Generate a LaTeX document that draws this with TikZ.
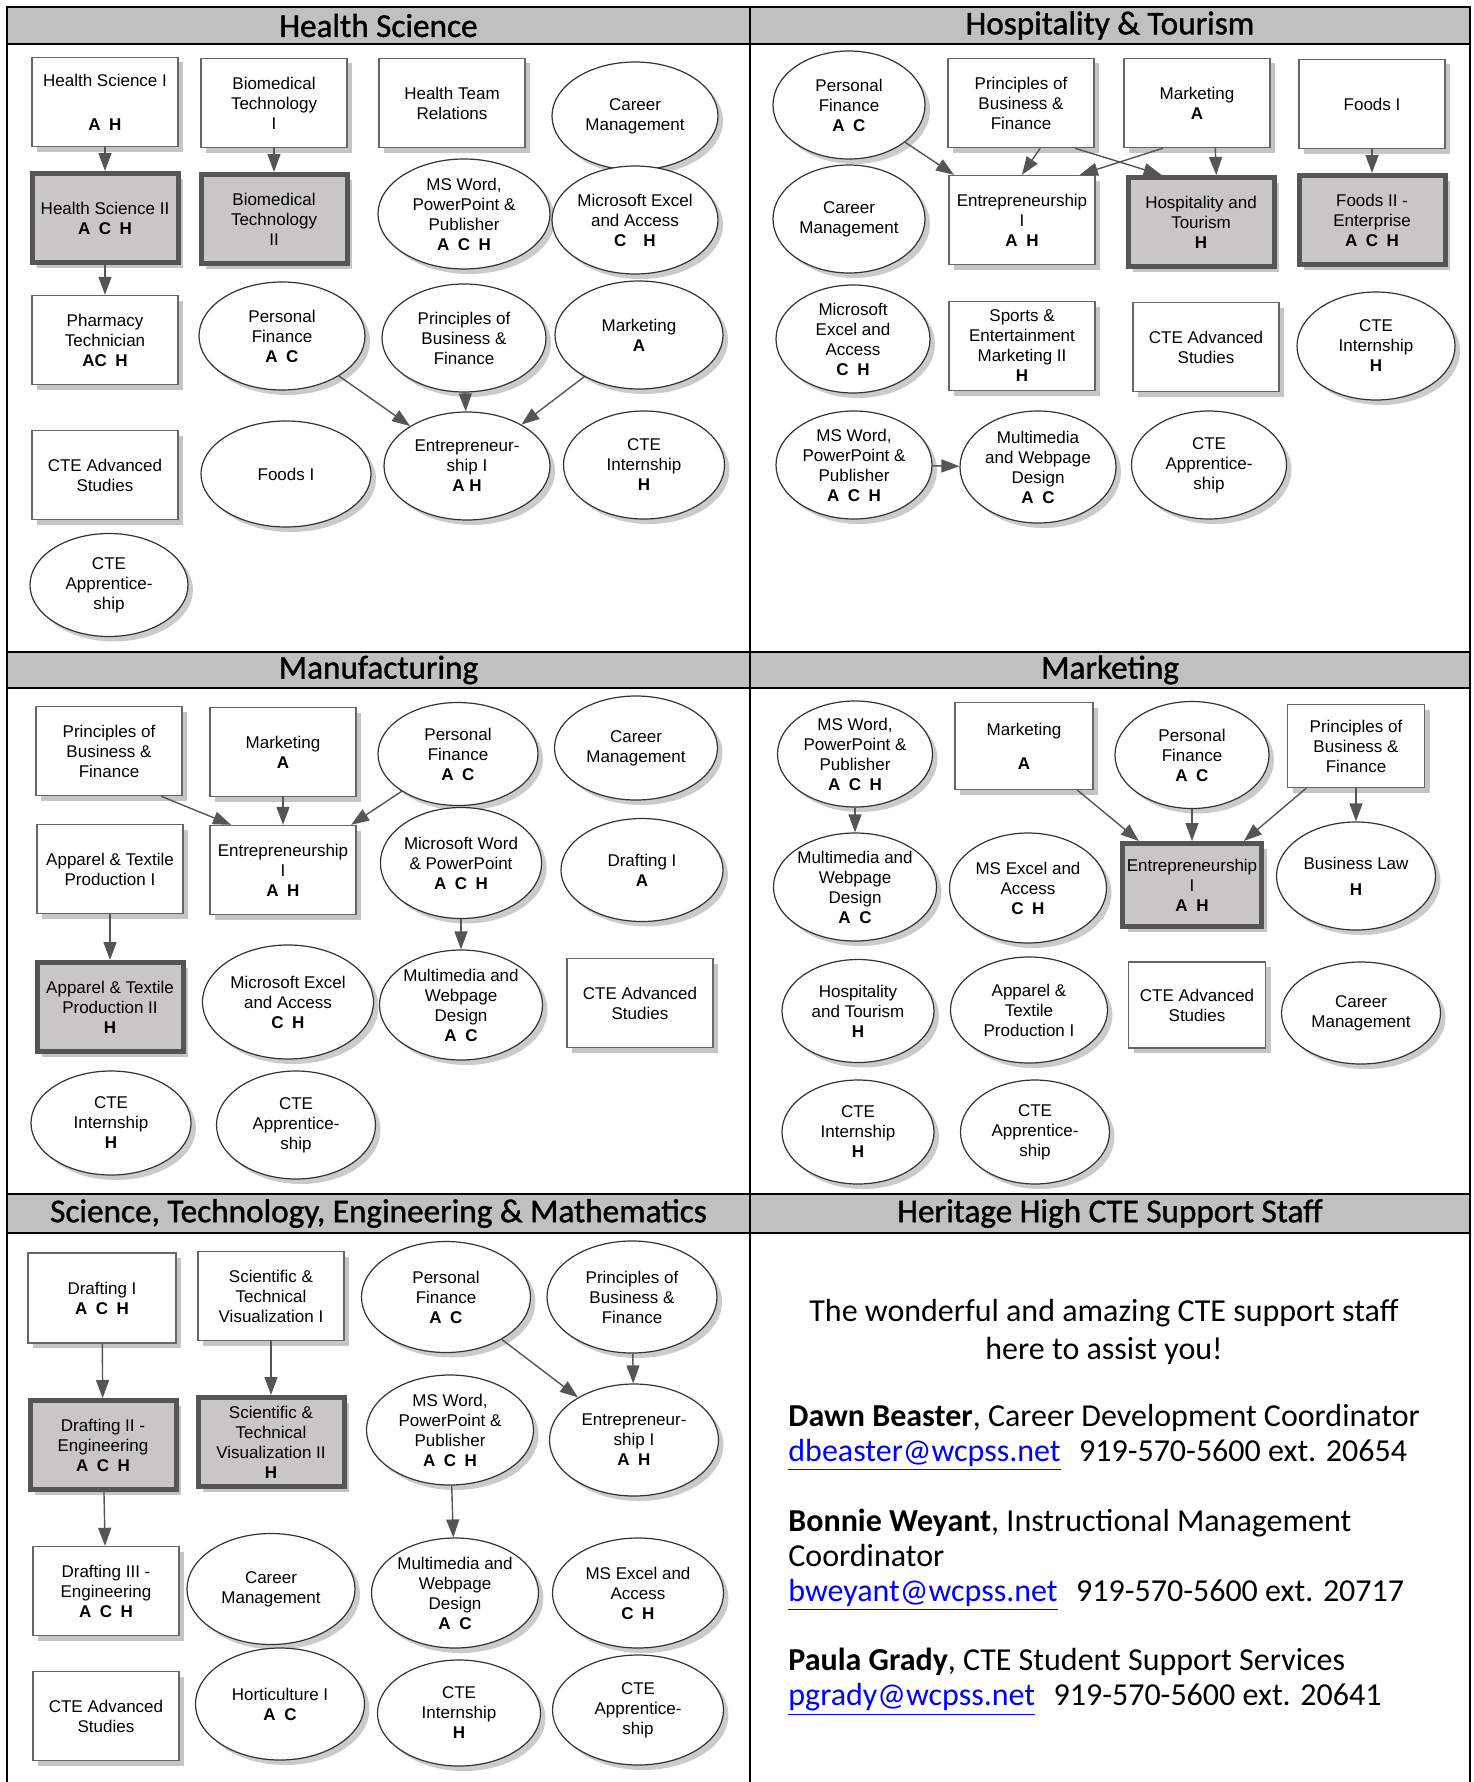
\documentclass[tikz,border=0pt]{standalone}
\usepackage{fontspec}
\setmainfont{Liberation Sans}
\newfontfamily\headfont{Carlito}
\newfontfamily\titlefont{Carlito}[FakeBold=1.2]
\usepackage{tikz}
\usetikzlibrary{arrows.meta}
\usetikzlibrary{shapes.geometric}
\usetikzlibrary{shadows}

\definecolor{hdrgray}{RGB}{192,192,192}
\definecolor{coregray}{RGB}{201,198,198}
\definecolor{linegray}{RGB}{85,85,85}
\newcommand{\ach}[1]{{\bfseries #1}}
\newcommand{\nodefont}{\fontsize{8.5}{10}\selectfont}
\newcommand{\stafffont}{\headfont\fontsize{16}{17.5}\selectfont}
\newcommand{\mail}[1]{\textcolor{blue}{\underline{#1}}}

\tikzset{
  frame/.style={draw=black, line width=1.2pt},
  hdr/.style={font=\titlefont\fontsize{16.6}{20}\selectfont, inner sep=0pt},
  course/.style={rectangle, draw=black!60, fill=white, line width=0.7pt, align=center,
    font=\nodefont, inner xsep=1pt, minimum width=73pt, minimum height=44.5pt,
    drop shadow={shadow xshift=2.5pt, shadow yshift=-2.5pt, fill=black!45}},
  core/.style={course, fill=coregray, draw=linegray, line width=2.5pt},
  elec/.style={ellipse, draw=black!80, fill=white, line width=0.6pt, align=center,
    font=\nodefont, inner sep=0pt, minimum width=#1, minimum height=54pt,
    drop shadow={shadow xshift=2.5pt, shadow yshift=-2.5pt, fill=black!40}},
  elec/.default=83pt,
  link/.style={draw=linegray, line width=0.7pt, ->},
  staff/.style={font=\stafffont, inner sep=0pt}
}

\begin{document}
\begin{tikzpicture}[x=0.5pt, y=-0.5pt, >={Triangle[length=9pt, width=6.5pt]}]
        \useasboundingbox (0,0) rectangle (1473,1782);
        \fill[white] (0,0) rectangle (1473,1782);
        \fill[hdrgray] (7,7) rectangle (1470,44);
        \fill[hdrgray] (7,652) rectangle (1470,688);
        \fill[hdrgray] (7,1194) rectangle (1470,1233);
        \draw[frame] (7,1782) -- (7,7) -- (1470,7) -- (1470,1782);
        \draw[frame] (750,7) -- (750,1782);
        \foreach \y in {44,652,688,1194,1233}
            \draw[frame] (7,\y) -- (1470,\y);

        \node[hdr] (hdrhs) at (378.5,25.5) {Health Science};
        \node[hdr] (hdrht) at (1110,25.5) {Hospitality \& Tourism};
        \node[hdr] (hdrmf) at (378.5,670) {Manufacturing};
        \node[hdr] (hdrmk) at (1110,670) {Marketing};
        \node[hdr] (hdrst) at (378.5,1213.5) {Science, Technology, Engineering \& Mathematics};
        \node[hdr] (hdrstaff) at (1110,1213.5) {Heritage High CTE Support Staff};

        \node[course] (hsI) at (105,102) {Health Science I\\[12pt]\ach{A\enspace H}};
        \node[core] (hsII) at (105,218) {Health Science II\\\ach{A\enspace C\enspace H}};
        \node[course] (pharm) at (105,340) {Pharmacy\\Technician\\\ach{AC\enspace H}};
        \node[course] (hsadv) at (105,475) {CTE Advanced\\Studies};
        \node[elec=79pt, minimum height=51.5pt] (hsappr) at (109,585) {CTE\\Apprentice-\\ship};
        \node[course] (bioI) at (274,103) {Biomedical\\Technology\\I};
        \node[core] (bioII) at (274,219) {Biomedical\\Technology\\II};
        \node[elec] (hspf) at (282,336) {Personal\\Finance\\\ach{A\enspace C}};
        \node[elec=85pt, minimum height=53pt] (hsfoods) at (286,474) {Foods I};
        \node[course] (team) at (452,103) {Health Team\\Relations};
        \node[elec=86pt, minimum height=55pt] (hsword) at (464,214) {MS Word,\\PowerPoint \&\\Publisher\\\ach{A\enspace C\enspace H}};
        \node[elec=82pt] (hspbf) at (464,338) {Principles of\\Business \&\\Finance};
        \node[elec] (hsent) at (467,466) {Entrepreneur-\\ship I\\\ach{A H}};
        \node[elec] (hscareer) at (635,116) {Career\\Management};
        \node[elec] (hsexcel) at (635,220) {Microsoft Excel\\and Access\\\ach{C\quad H}};
        \node[elec=84pt] (hsmkt) at (639,335) {Marketing\\\ach{A}};
        \node[elec=80.5pt] (hsintern) at (644,465) {CTE\\Internship\\\ach{H}};

        \node[elec=76pt] (htpf) at (849,105) {Personal\\Finance\\\ach{A\enspace C}};
        \node[elec=76pt] (htcareer) at (849,219) {Career\\Management};
        \node[elec=77pt] (htexcel) at (853,339) {Microsoft\\Excel and\\Access\\\ach{C\enspace H}};
        \node[elec=78pt] (htword) at (854,465) {MS Word,\\PowerPoint \&\\Publisher\\\ach{A\enspace C\enspace H}};
        \node[course] (htpbf) at (1021,103) {Principles of\\Business \&\\Finance};
        \node[course] (htent) at (1022,220) {Entrepreneurship\\I\\\ach{A\enspace H}};
        \node[course] (htsports) at (1022,346) {Sports \&\\Entertainment\\Marketing II\\\ach{H}};
        \node[elec=78pt, minimum height=56pt] (htmedia) at (1038,467) {Multimedia\\and Webpage\\Design\\\ach{A\enspace C}};
        \node[course] (htmkt) at (1197,103) {Marketing\\\ach{A}};
        \node[core] (hosp) at (1201,222) {Hospitality and\\Tourism\\\ach{H}};
        \node[course] (htadv) at (1206,347) {CTE Advanced\\Studies};
        \node[elec=77.5pt] (htappr) at (1209,465) {CTE\\Apprentice-\\ship};
        \node[course] (htfoods) at (1372,104) {Foods I};
        \node[core] (foods) at (1372,220) {Foods II -\\Enterprise\\\ach{A\enspace C\enspace H}};
        \node[elec=79pt] (htintern) at (1376,346) {CTE\\Internship\\\ach{H}};

        \node[course] (mfpbf) at (109,751) {Principles of\\Business \&\\Finance};
        \node[course] (appI) at (110,869) {Apparel \& Textile\\Production I};
        \node[core] (appII) at (110,1007) {Apparel \& Textile\\Production II\\\ach{H}};
        \node[elec=80pt, minimum height=52pt] (mfintern) at (111,1123) {CTE\\Internship\\\ach{H}};
        \node[course] (mfmkt) at (283,752) {Marketing\\\ach{A}};
        \node[course] (mfent) at (283,870) {Entrepreneurship\\I\\\ach{A\enspace H}};
        \node[elec=85.5pt, minimum height=57pt] (mfexcel) at (288,1002) {Microsoft Excel\\and Access\\\ach{C\enspace H}};
        \node[elec=79.5pt] (mfappr) at (296,1125) {CTE\\Apprentice-\\ship};
        \node[elec=80pt, minimum height=51.5pt] (mfpf) at (458,754) {Personal\\Finance\\\ach{A\enspace C}};
        \node[elec=80.5pt, minimum height=55.5pt] (mfword) at (461,863) {Microsoft Word\\\& PowerPoint\\\ach{A\enspace C\enspace H}};
        \node[elec=80pt, minimum height=55pt] (mfmedia) at (461,1005) {Multimedia and\\Webpage\\Design\\\ach{A\enspace C}};
        \node[elec=81.5pt, minimum height=52pt] (mfcareer) at (636,748) {Career\\Management};
        \node[elec=81pt, minimum height=51.5pt] (draftA) at (642,870) {Drafting I\\\ach{A}};
        \node[course] (mfadv) at (640,1003) {CTE Advanced\\Studies};

        \node[elec=77.5pt, minimum height=53pt] (mkword) at (855,754) {MS Word,\\PowerPoint \&\\Publisher\\\ach{A\enspace C\enspace H}};
        \node[elec=77.5pt] (mkmedia) at (855,887) {Multimedia and\\Webpage\\Design\\\ach{A\enspace C}};
        \node[elec=76pt, minimum height=51.5pt] (mkhosp) at (858,1011) {Hospitality\\and Tourism\\\ach{H}};
        \node[elec=76pt, minimum height=52pt] (mkintern) at (858,1132) {CTE\\Internship\\\ach{H}};
        \node[course, minimum width=69pt, minimum height=43.5pt] (mkmkt) at (1024,746) {Marketing\\[7pt]\ach{A}};
        \node[elec=78.5pt, minimum height=55pt] (mkexcel) at (1028,888) {MS Excel and\\Access\\\ach{C\enspace H}};
        \node[elec=78.5pt, minimum height=53pt] (mkapp) at (1029,1010) {Apparel \&\\Textile\\Production I};
        \node[elec=74.5pt, minimum height=52pt] (mkappr) at (1035,1132) {CTE\\Apprentice-\\ship};
        \node[elec=77pt, minimum height=53.5pt] (mkpf) at (1192,755) {Personal\\Finance\\\ach{A\enspace C}};
        \node[core, minimum width=69.5pt, minimum height=41.5pt] (mkent) at (1192,885) {Entrepreneurship\\I\\\ach{A\enspace H}};
        \node[course, minimum width=68.5pt, minimum height=43pt] (mkadv) at (1197,1005) {CTE Advanced\\Studies};
        \node[course, minimum width=68.5pt, minimum height=41.5pt] (mkpbf) at (1356,746) {Principles of\\Business \&\\Finance};
        \node[elec=79.5pt] (law) at (1356,876) {Business Law\\[3pt]\ach{H}};
        \node[elec=79.5pt, minimum height=51pt] (mkcareer) at (1361,1013) {Career\\Management};

        \node[course, minimum width=74pt, minimum height=45pt] (draftI) at (102,1298) {Drafting I\\\ach{A\enspace C\enspace H}};
        \node[core] (draftII) at (103,1445) {Drafting II -\\Engineering\\\ach{A\enspace C\enspace H}};
        \node[course] (draftIII) at (106,1591) {Drafting III -\\Engineering\\\ach{A\enspace C\enspace H}};
        \node[course] (stadv) at (106,1716) {CTE Advanced\\Studies};
        \node[course] (stvI) at (271,1296) {Scientific \&\\Technical\\Visualization I};
        \node[core] (stvII) at (271,1442) {Scientific \&\\Technical\\Visualization II\\\ach{H}};
        \node[elec=84pt, minimum height=55.5pt] (stcareer) at (271,1589) {Career\\Management};
        \node[elec=84.5pt, minimum height=56pt] (hort) at (280,1704) {Horticulture I\\\ach{A\enspace C}};
        \node[elec=84.5pt, minimum height=55.5pt] (stpf) at (446,1297) {Personal\\Finance\\\ach{A\enspace C}};
        \node[elec=83.5pt, minimum height=55pt] (stword) at (450,1430) {MS Word,\\PowerPoint \&\\Publisher\\\ach{A\enspace C\enspace H}};
        \node[elec=83.5pt, minimum height=55pt] (stmedia) at (455,1593) {Multimedia and\\Webpage\\Design\\\ach{A\enspace C}};
        \node[elec=81.5pt, minimum height=53pt] (stintern) at (459,1713) {CTE\\Internship\\\ach{H}};
        \node[elec=85pt, minimum height=56pt] (stpbf) at (632,1297) {Principles of\\Business \&\\Finance};
        \node[elec=84.5pt, minimum height=56pt] (stent) at (634,1440) {Entrepreneur-\\ship I\\\ach{A\enspace H}};
        \node[elec=85.5pt, minimum height=55pt] (stexcel) at (638,1593) {MS Excel and\\Access\\\ach{C\enspace H}};
        \node[elec=85.5pt, minimum height=55pt] (stappr) at (638,1710) {CTE\\Apprentice-\\ship};

        \node[staff, align=center, font=\headfont\fontsize{16}{18.75}\selectfont] (intro) at (1104,1332)
            {The wonderful and amazing CTE support staff\\here to assist you!};
        \node[staff, align=left, anchor=west] (dawn) at (788,1437.5)
            {\textbf{Dawn Beaster}, Career Development Coordinator\\
             \mail{dbeaster@wcpss.net}\hspace{0.35em} 919-570-5600 ext. 20654};
        \node[staff, align=left, anchor=west] (bonnie) at (788,1560)
            {\textbf{Bonnie Weyant}, Instructional Management\\Coordinator\\
             \mail{bweyant@wcpss.net}\hspace{0.35em} 919-570-5600 ext. 20717};
        \node[staff, align=left, anchor=west] (paula) at (788,1682)
            {\textbf{Paula Grady}, CTE Student Support Services\\
             \mail{pgrady@wcpss.net}\hspace{0.35em} 919-570-5600 ext. 20641};

        \path (hsI) edge[link] (hsII)
              (hsII) edge[link] (pharm)
              (bioI) edge[link] (bioII)
              (hspf) edge[link] (hsent)
              (hspbf) edge[link] (hsent)
              (hsmkt) edge[link] (hsent);
        \path (htpf) edge[link] (htent)
              (htpbf.-67) edge[link] (htent.north)
              (htpbf.-40) edge[link] (hosp.130)
              (htmkt.-127) edge[link] (htent.38)
              (htmkt.-68) edge[link] (hosp.72)
              (htfoods) edge[link] (foods)
              (htword) edge[link] (htmedia);
        \path (mfpbf.-41) edge[link] (mfent.139)
              (mfmkt) edge[link] (mfent)
              (mfpf) edge[link] (mfent)
              (appI) edge[link] (appII)
              (mfword) edge[link] (mfmedia);
        \path (mkword) edge[link] (mkmedia)
              (mkmkt) edge[link] (mkent)
              (mkpf) edge[link] (mkent)
              (mkpbf) edge[link] (mkent)
              (mkpbf) edge[link] (law);
        \path (draftI) edge[link] (draftII)
              (draftII) edge[link] (draftIII)
              (stvI) edge[link] (stvII)
              (stpf) edge[link] (stent)
              (stpbf) edge[link] (stent)
              (stword) edge[link] (stmedia);
\end{tikzpicture}
\end{document}
